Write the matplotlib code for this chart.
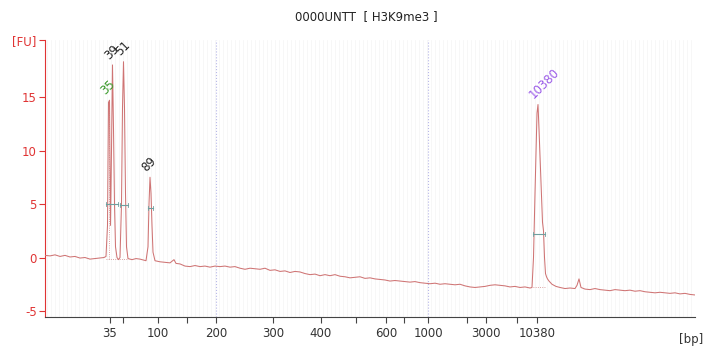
import matplotlib
matplotlib.use("Agg")
import matplotlib.pyplot as plt
import numpy as np

# migration time axis (arbitrary units) with bp ladder labels
tick_time = [110, 123, 158, 187, 216, 273, 321, 356, 386, 404, 428, 467, 486, 517, 537]
tick_bp = ['35', '', '100', '', '200', '300', '400', '', '600', '', '1000', '', '3000', '', '10380']
grid_time = [216, 428]

# electropherogram trace
trace_t = [45, 50, 55, 60, 65, 70, 75, 80, 85, 90, 95, 100, 104,
           106, 107.5, 108.5, 109.5, 110.5, 111.5, 112.5, 113.5, 114.5, 115.5, 117, 118.5, 120,
           121.5, 122.5, 123.5, 124.5, 125.5, 126.5, 128,
           132, 136, 140, 144, 146, 148, 149, 150, 151, 152, 153, 155,
           160, 165, 170, 174, 176, 180, 185, 190, 195, 200, 205, 210, 215, 220, 225, 230,
           235, 240, 245, 250, 255, 260, 265, 270, 275, 280, 285, 290, 295, 300, 305, 310,
           315, 320, 325, 330, 335, 340, 345, 350, 355, 360, 365, 370, 375, 380, 385, 390,
           395, 400, 405, 410, 415, 420, 425, 430, 435, 440, 445, 450, 455, 460, 465, 470,
           475, 480, 485, 490, 495, 500, 505, 510, 515, 520, 525, 530, 532,
           533.5, 535, 537, 538, 539, 541, 542.5, 543.5, 544.5, 545.5, 546.5, 547.5, 549,
           552, 556, 560, 565, 570, 575, 577, 579, 581, 585, 590, 595, 600, 605, 610, 615,
           620, 625, 630, 635, 640, 645, 650, 655, 660, 665, 670, 675, 680, 685, 690, 695]
trace_fu = [0.2, 0.15, 0.25, 0.1, 0.2, 0.05, 0.1, -0.05, 0.0, -0.15, -0.1, -0.05, 0.0,
            0.1, 3.0, 14.5, 14.7, 3.0, 10.0, 18.0, 12.0, 5.0, 1.0, 0.0, -0.2, 0.0,
            5.0, 14.0, 18.3, 14.0, 6.0, 1.0, -0.1,
            -0.2, -0.1, -0.15, -0.25, -0.3, 1.0, 5.0, 7.5, 6.0, 3.0, 0.5, -0.3,
            -0.4, -0.45, -0.5, -0.2, -0.55, -0.6, -0.8, -0.85, -0.75, -0.85, -0.8, -0.9, -0.8, -0.85, -0.8, -0.9,
            -0.85, -1.0, -1.1, -1.0, -1.05, -1.1, -1.0, -1.2, -1.15, -1.3, -1.25, -1.4, -1.3, -1.35, -1.5, -1.6,
            -1.55, -1.7, -1.6, -1.7, -1.6, -1.75, -1.8, -1.9, -1.85, -1.8, -1.95, -1.9, -2.0, -2.05, -2.1, -2.2,
            -2.15, -2.2, -2.25, -2.3, -2.25, -2.35, -2.4, -2.45, -2.4, -2.5, -2.45, -2.5, -2.55, -2.5, -2.65, -2.75,
            -2.8, -2.75, -2.7, -2.6, -2.55, -2.6, -2.65, -2.75, -2.7, -2.8, -2.75, -2.85, -2.8,
            0.0, 6.0, 13.5, 14.3, 12.0, 7.0, 3.3, 2.5, 0.0, -1.5, -1.8, -2.0, -2.2,
            -2.5, -2.7, -2.8, -2.9, -2.85, -2.9, -2.6, -2.0, -2.8, -2.95, -3.0, -2.9, -3.0, -3.05, -3.1, -3.0,
            -3.05, -3.1, -3.05, -3.15, -3.1, -3.2, -3.25, -3.3, -3.25, -3.3, -3.35, -3.3, -3.4, -3.35, -3.45, -3.5]

# called peaks
peak_t = [109, 113, 124, 150, 538]
peak_fu = [14.7, 18.0, 18.3, 7.5, 14.3]
peak_name = ['35', '39', '51', '89', '10380']
peak_color = ['#3a9a2a', '#222222', '#222222', '#222222', '#9a5ae8']

# half-height width markers (start, end, level)
half_start = [106, 120, 148, 533]
half_end = [118, 128, 153, 545]
half_level = [5.0, 4.9, 4.6, 2.2]

red = '#e03434'
fig = plt.figure(figsize=(7.04, 3.47), dpi=100)
ax = fig.add_axes([45/704, 30/347, 650/704, 277/347])
ax.set_xlim(45, 695)
ax.set_ylim(-5.56, 20.33)

# faint background hatch
for t in np.arange(47, 695, 4):
    ax.axvline(t, color='#f6f6f6', lw=0.6, zorder=0)
for t in grid_time:
    ax.axvline(t, color='#b8b8e8', lw=0.8, ls=':', zorder=1)

ax.plot(trace_t, trace_fu, color='#cf7474', lw=0.75, zorder=3)

# baseline under peaks and half-height bars
ax.plot([106, 128], [-0.1, -0.1], color='#d08888', lw=0.6, ls=':', zorder=2)
ax.plot([109, 109], [-0.1, 14.5], color='#d08888', lw=0.6, ls=':', zorder=2)
ax.plot([533, 545], [-2.8, -2.8], color='#d08888', lw=0.6, ls=':', zorder=2)
for s, e, h in zip(half_start, half_end, half_level):
    ax.plot([s, e], [h, h], color='#6f9f9f', lw=0.8, zorder=4)
    ax.plot([s, s], [h - 0.2, h + 0.2], color='#6f9f9f', lw=0.6, zorder=4)
    ax.plot([e, e], [h - 0.2, h + 0.2], color='#6f9f9f', lw=0.6, zorder=4)

for t, v, n, c in zip(peak_t, peak_fu, peak_name, peak_color):
    ax.text(t - 2, v + 0.3, n, rotation=45, color=c, fontsize=8.5,
            ha='left', va='bottom', rotation_mode='anchor', zorder=5)

for side in ['top', 'right']:
    ax.spines[side].set_visible(False)
ax.spines['left'].set_color(red)
ax.spines['bottom'].set_color('#444444')

ax.set_yticks([-5, 0, 5, 10, 15, 20.33])
ax.set_yticklabels(['-5', '0', '5', '10', '15', '[FU]'])
ax.tick_params(axis='y', colors=red, labelsize=8.5, length=4, pad=2)
ax.set_xticks(tick_time)
ax.set_xticklabels(tick_bp)
ax.tick_params(axis='x', colors='#444444', labelcolor='#333333', labelsize=8.5, length=4, pad=3)

fig.text(703/704, 1 - 340/347, '[bp]', color='#333333', fontsize=8.5, ha='right', va='center')
fig.text(366/704, 1 - 17/347, '0000UNTT  [ H3K9me3 ]', ha='center', va='center',
         fontsize=8.5, color='#222222')

fig.savefig('out.png', dpi=100)
